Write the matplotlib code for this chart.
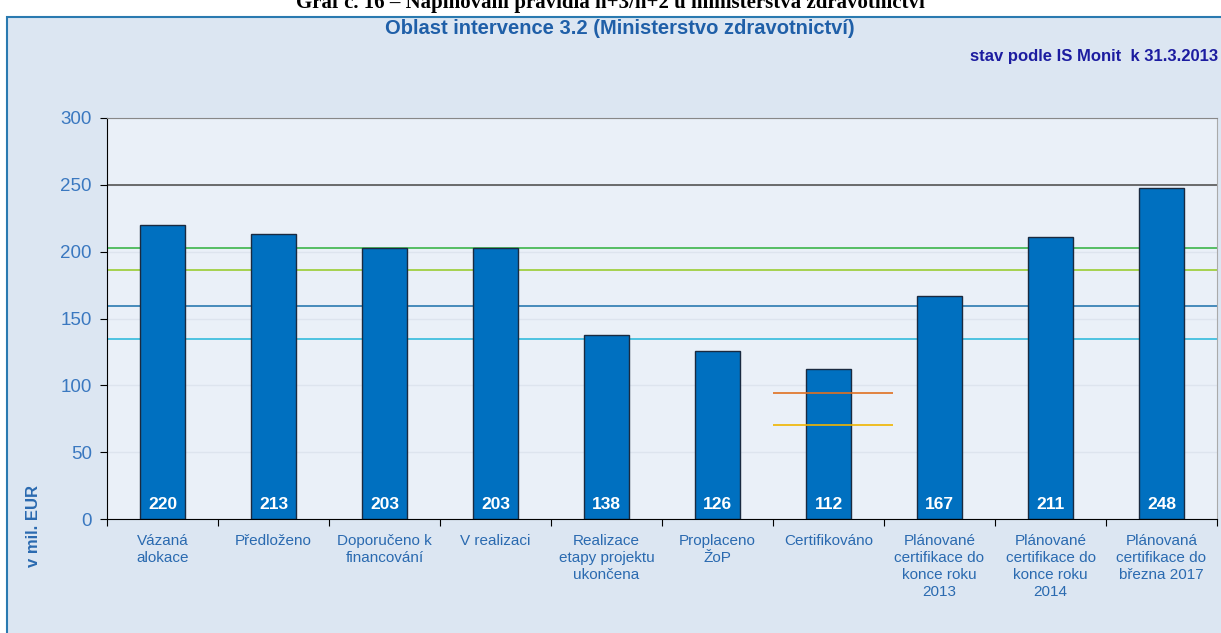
import matplotlib.pyplot as plt
from matplotlib.patches import Rectangle

plt.rcParams['font.family'] = ['Liberation Sans', 'DejaVu Sans']

# data
categories = ['Vázaná\nalokace', 'Předloženo', 'Doporučeno k\nfinancování', 'V realizaci',
              'Realizace\netapy projektu\nukončena', 'Proplaceno\nŽoP', 'Certifikováno',
              'Plánované\ncertifikace do\nkonce roku\n2013', 'Plánované\ncertifikace do\nkonce roku\n2014',
              'Plánovaná\ncertifikace do\nbřezna 2017']
values = [220, 213, 203, 203, 138, 126, 112, 167, 211, 248]
ref_levels = [250, 203, 186, 159, 135]
ref_colors = ['#555555', '#3cb44b', '#9acd32', '#2a7ab0', '#33bbdd']
cert_levels = [94, 70]
cert_colors = ['#e07020', '#f0b400']

W, H = 1221, 633
fig = plt.figure(figsize=(W / 100, H / 100), dpi=100)
fig.patch.set_facecolor('white')

# chart frame
fig.patches.append(Rectangle((7 / W, -0.01), 1, 1.01 - 17 / H, transform=fig.transFigure,
                             facecolor='#dce6f2', edgecolor='#2a7ab0', lw=1.5, zorder=-5))

fig.text(0.5, 1 - 3 / H, 'Graf č. 16 – Naplňování pravidla n+3/n+2 u ministerstva zdravotnictví',
         ha='center', va='center', fontsize=15, fontweight='bold', family='Liberation Serif')
fig.text(620 / W, 1 - 29 / H, 'Oblast intervence 3.2 (Ministerstvo zdravotnictví)',
         ha='center', va='center', fontsize=14.5, fontweight='bold', color='#1f5fa8')
fig.text(1218 / W, 1 - 56 / H, 'stav podle IS Monit  k 31.3.2013',
         ha='right', va='center', fontsize=12, fontweight='bold', color='#1c1ca0')
fig.text(33 / W, 1 - 567 / H, 'v mil. EUR', rotation=90, ha='center', va='bottom',
         fontsize=12, fontweight='bold', color='#2a6ab0')

ax = fig.add_axes([107 / W, 1 - 519 / H, (1217 - 107) / W, (519 - 118) / H])
ax.set_facecolor('#eaf0f8')

x = list(range(len(values)))
ax.set_xlim(-0.5, len(values) - 0.5)
ax.set_ylim(0, 300)
ax.set_yticks(range(0, 301, 50))
ax.yaxis.grid(True, color='#dde4ee', lw=1)
ax.set_axisbelow(True)

for lvl, c in zip(ref_levels, ref_colors):
    ax.axhline(lvl, color=c, lw=1.2, zorder=1)

ax.bar(x, values, width=0.41, color='#0070c0', edgecolor='#1a2a40', lw=1, zorder=2)

for lvl, c in zip(cert_levels, cert_colors):
    ax.hlines(lvl, 6 - 0.5, 6 + 0.58, color=c, lw=1.2, zorder=3)

for xi, v in zip(x, values):
    ax.text(xi, 5, str(v), ha='center', va='bottom', color='white',
            fontsize=12.5, fontweight='bold', zorder=4)

ax.set_xticks([i - 0.5 for i in range(len(values) + 1)])
ax.set_xticklabels([])
ax.set_xticks(x, minor=True)
ax.set_xticklabels(categories, minor=True, fontsize=11, color='#2a6ab0', linespacing=1.25, va='top')
ax.tick_params(axis='x', which='minor', length=0, pad=11)
ax.tick_params(axis='x', which='major', length=5, color='black', direction='out')
ax.tick_params(axis='y', labelsize=13.5, labelcolor='#3a78c0', length=5, color='black', pad=6)

ax.spines['left'].set_color('black')
ax.spines['bottom'].set_color('black')
ax.spines['top'].set_color('#888888')
ax.spines['right'].set_color('#aaaaaa')

fig.savefig('out.png', dpi=100)
